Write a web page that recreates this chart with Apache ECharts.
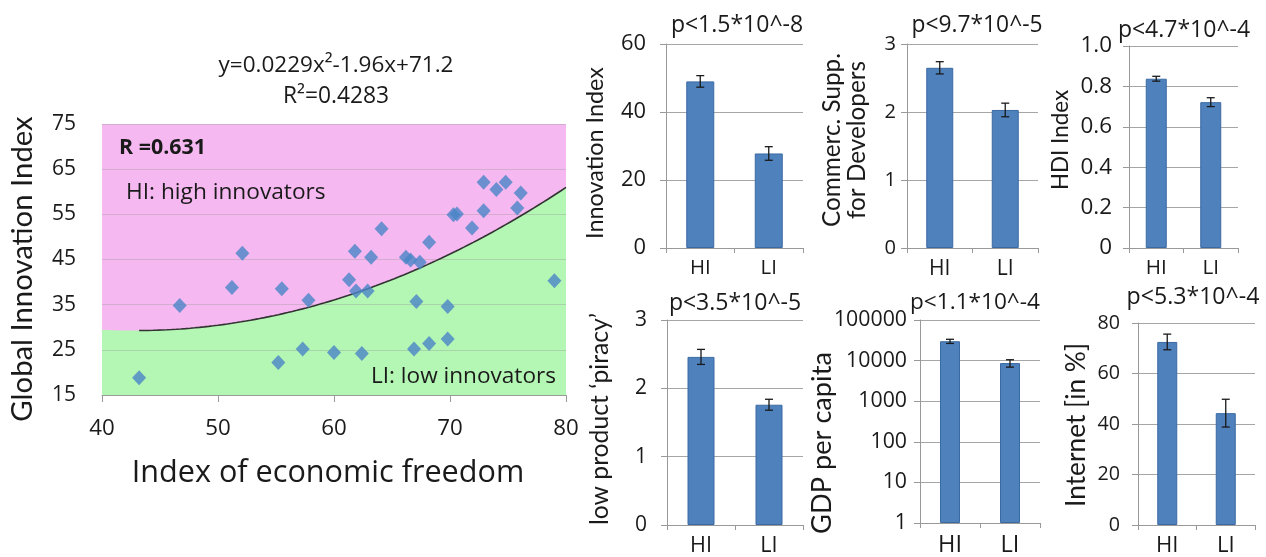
<!DOCTYPE html>
<html>
<head>
<meta charset="utf-8">
<script src="https://cdn.jsdelivr.net/npm/echarts@6/dist/echarts.min.js"></script>
<style>
  html, body { margin: 0; padding: 0; background: #fff; }
  #chart { width: 1266px; height: 557px; }
</style>
</head>
<body>
<div id="chart"></div>
<script>
// Scatter: economic freedom vs. global innovation index (one point per country)
const freedomIndex = [43.2, 46.7, 51.2, 52.1, 55.2, 55.5, 57.3, 57.8, 60.0, 61.3,
  61.8, 61.9, 62.4, 62.9, 63.2, 64.1, 66.2, 66.6, 67.4, 67.1,
  66.9, 68.2, 68.2, 69.8, 69.8, 70.3, 70.6, 71.9, 72.9, 72.9,
  74.0, 74.8, 75.8, 76.1, 79.0];
const innovationIndex = [18.8, 34.8, 38.8, 46.4, 22.2, 38.5, 25.2, 36.0, 24.4, 40.5,
  46.8, 38.0, 24.2, 38.0, 45.5, 51.8, 45.5, 44.9, 44.4, 35.7,
  25.2, 48.8, 26.4, 34.6, 27.4, 54.9, 55.1, 52.0, 62.1, 55.8,
  60.5, 62.1, 56.4, 59.7, 40.3];

// Quadratic fit y = a x^2 + b x + c, as printed above the plot
const trendCoef = [0.0229, -1.96, 71.2];
const trendStartX = 43.2;
const freedomTicks = [40, 50, 60, 70, 80];
const innovationTicks = [15, 25, 35, 45, 55, 65, 75];

// Group comparison bars: high innovators vs. low innovators (mean, standard error)
const groups = ['HI', 'LI'];
const innovationMean = [49.0, 27.8];
const innovationErr  = [1.7, 2.0];
const commercMean = [2.65, 2.03];
const commercErr  = [0.09, 0.10];
const hdiMean = [0.838, 0.722];
const hdiErr  = [0.012, 0.022];
const piracyMean = [2.46, 1.76];
const piracyErr  = [0.11, 0.08];
const gdpMean = [30000, 8700];
const gdpErr  = [3500, 1800];
const internetMean = [72.5, 44.3];
const internetErr  = [3.1, 5.5];
const pValues = ['p<1.5*10^-8', 'p<9.7*10^-5', 'p<4.7*10^-4',
                 'p<3.5*10^-5', 'p<1.1*10^-4', 'p<5.3*10^-4'];
const panelNames = ['Innovation Index', 'Commerc. Supp.\nfor Developers', 'HDI Index',
                    'low product \u2018piracy\u2019', 'GDP per capita', 'Internet [in %]'];

const FONT = 'Open Sans';   // horizontal text
const VFONT = 'Lato';       // rotated axis names
const TXT = '#1a1a1a';
const BAR = '#4F81BD';
const GRID_GRAY = '#a6a6a6';

// Font size that makes a string span a given pixel length
const measureCtx = document.createElement('canvas').getContext('2d');
function fitSize(text, target, weight, family) {
  measureCtx.font = (weight || 'normal') + ' 100px "' + (family || FONT) + '"';
  const longest = text.split('\n').reduce((m, line) => Math.max(m, measureCtx.measureText(line).width), 0);
  return Math.round(1000 * target / longest) / 10;
}

function trendAt(x) {
  return trendCoef[0] * x * x + trendCoef[1] * x + trendCoef[2];
}
const xMin = freedomTicks[0], xMax = freedomTicks[freedomTicks.length - 1];
const areaPts = [];
for (let x = xMin; x <= xMax + 1e-9; x += 0.5) areaPts.push([x, trendAt(x)]);
const linePts = [];
for (let x = trendStartX; x <= xMax + 1e-9; x += 0.4) linePts.push([x, trendAt(x)]);
linePts.push([xMax, trendAt(xMax)]);

const chart = echarts.init(document.getElementById('chart'), null, { renderer: 'canvas' });

// Panel layout (pixels); sample strings size the tick labels
const panels = [
  { left: 666,  top: 44,  width: 137, height: 204, min: 0, max: 60,  interval: 20,  mean: innovationMean, err: innovationErr, barW: 28, lblMargin: 20,
    tickSample: ['60', 25], catSize: 20.7, title: [737, 25, 132], name: [595, 153, 172] },
  { left: 907,  top: 44,  width: 131, height: 204, min: 0, max: 3,   interval: 1,   mean: commercMean,    err: commercErr,    barW: 27, lblMargin: 11,
    tickSample: ['3', 11.5], catSize: 21.5, title: [977, 26, 131], name: [845, 140, 174] },
  { left: 1129, top: 46,  width: 109, height: 202, min: 0, max: 1,   interval: 0.2, mean: hdiMean,        err: hdiErr,        barW: 21, lblMargin: 17,
    tickSample: ['0.8', 31.5], catSize: 21, title: [1184, 30, 132], name: [1061, 140, 100] },
  { left: 667,  top: 320, width: 136, height: 205, min: 0, max: 3,   interval: 1,   mean: piracyMean,     err: piracyErr,     barW: 27, lblMargin: 20,
    tickSample: ['3', 12], catSize: 22, title: [735, 303, 132], name: [600, 419, 212] },
  { left: 920,  top: 320, width: 120, height: 206, min: 1, max: 100000, log: true,  mean: gdpMean,        err: gdpErr,        barW: 20, lblMargin: 13,
    tickSample: ['100000', 73], catSize: 24, title: [975, 303, 130], name: [822, 443, 182] },
  { left: 1138, top: 323, width: 117, height: 203, min: 0, max: 80,  interval: 20,  mean: internetMean,   err: internetErr,   barW: 20, lblMargin: 18,
    tickSample: ['80', 22.5], catSize: 22.5, title: [1193, 297, 133], name: [1077, 425, 164] }
];

const grids = [{ left: 102, top: 124, width: 464, height: 271, show: true, backgroundColor: '#F5B8F0', borderWidth: 0, z: 0 }];
const xAxes = [{
  gridIndex: 0, type: 'value', min: xMin, max: xMax, interval: 10, z: 2,
  axisLine: { show: true, lineStyle: { color: '#9a9a9a', width: 1 } },
  axisTick: { show: true, length: 7, lineStyle: { color: '#9a9a9a' } },
  axisLabel: { fontFamily: FONT, fontSize: fitSize('40', 25.5), color: TXT, margin: 23 },
  splitLine: { show: false }
}];
const yAxes = [{
  gridIndex: 0, type: 'value', min: innovationTicks[0], max: innovationTicks[innovationTicks.length - 1], interval: 10, z: 2,
  axisLine: { show: false }, axisTick: { show: false },
  axisLabel: { fontFamily: FONT, fontSize: fitSize('75', 24), color: TXT, margin: 26 },
  splitLine: { show: true, lineStyle: { color: 'rgba(150,150,150,0.35)', width: 1 } }
}];

const series = [
  { type: 'line', xAxisIndex: 0, yAxisIndex: 0, data: areaPts, showSymbol: false, symbol: 'none',
    lineStyle: { width: 0 }, areaStyle: { color: '#B4F6B4', opacity: 1, origin: 'start' }, z: 1, silent: true },
  { type: 'line', xAxisIndex: 0, yAxisIndex: 0, data: linePts, showSymbol: false, symbol: 'none', smooth: false,
    lineStyle: { width: 1.6, color: '#333' }, z: 3, silent: true },
  { type: 'scatter', xAxisIndex: 0, yAxisIndex: 0, symbol: 'diamond', symbolSize: [14, 15],
    data: freedomIndex.map((x, i) => [x, innovationIndex[i]]),
    itemStyle: { color: '#4A85C7' }, z: 4 }
];

panels.forEach((p, k) => {
  const gi = k + 1;
  grids.push({ left: p.left, top: p.top, width: p.width, height: p.height });
  xAxes.push({
    gridIndex: gi, type: 'category', data: groups, boundaryGap: true,
    axisLine: { show: true, lineStyle: { color: '#999', width: 1 } },
    axisTick: { show: true, length: 5, lineStyle: { color: '#999' } },
    axisLabel: { fontFamily: FONT, fontSize: fitSize('HI', p.catSize), color: TXT, margin: 10 }
  });
  const y = {
    gridIndex: gi, min: p.min, max: p.max,
    axisLine: { show: true, lineStyle: { color: '#999', width: 1 } },
    axisTick: { show: true, length: 6, lineStyle: { color: '#999' } },
    axisLabel: { fontFamily: FONT, fontSize: fitSize(p.tickSample[0], p.tickSample[1]), color: TXT, margin: p.lblMargin,
                 formatter: v => (p.interval && p.interval < 1 && v !== 0 ? v.toFixed(1) : String(v)) },
    splitLine: { show: true, lineStyle: { color: GRID_GRAY, width: 1 } }
  };
  if (p.log) { y.type = 'log'; y.logBase = 10; } else { y.type = 'value'; y.interval = p.interval; }
  yAxes.push(y);
  series.push({
    type: 'bar', xAxisIndex: gi, yAxisIndex: gi, data: p.mean, barWidth: p.barW,
    itemStyle: { color: BAR, borderColor: '#3B6AA3', borderWidth: 1 }, z: 2
  });
  series.push({
    type: 'custom', xAxisIndex: gi, yAxisIndex: gi,
    data: p.mean.map((m, i) => [i, m - p.err[i], m + p.err[i]]),
    encode: { x: 0, y: [1, 2] },
    renderItem: (params, api) => {
      const lo = api.coord([api.value(0), api.value(1)]);
      const hi = api.coord([api.value(0), api.value(2)]);
      const cw = 4;
      const st = { stroke: '#1a1a1a', lineWidth: 1.3 };
      return { type: 'group', children: [
        { type: 'line', shape: { x1: lo[0], y1: lo[1], x2: hi[0], y2: hi[1] }, style: st },
        { type: 'line', shape: { x1: lo[0] - cw, y1: lo[1], x2: lo[0] + cw, y2: lo[1] }, style: st },
        { type: 'line', shape: { x1: hi[0] - cw, y1: hi[1], x2: hi[0] + cw, y2: hi[1] }, style: st }
      ] };
    },
    z: 5
  });
});

// Text labels
function txt(text, x, y, width, weight, align) {
  return { type: 'text', x: x, y: y, z: 10,
    style: { text: text, fontFamily: FONT, fontSize: fitSize(text, width, weight), fontWeight: weight || 'normal',
             fill: TXT, align: align || 'center', verticalAlign: 'middle' } };
}
function vtxt(text, x, y, length) {
  const size = fitSize(text, length, null, VFONT);
  return { type: 'text', x: x, y: y, rotation: Math.PI / 2, z: 10,
    style: { text: text, fontFamily: VFONT, fontSize: size, fill: TXT, align: 'center', verticalAlign: 'middle', lineHeight: 25 } };
}
const graphics = [
  txt('y=0.0229x\u00B2-1.96x+71.2', 336, 66, 235),
  txt('R\u00B2=0.4283', 336, 97, 106),
  txt('R =0.631', 119, 148, 87, 'bold', 'left'),
  txt('HI: high innovators', 126, 193, 200, null, 'left'),
  txt('LI: low innovators', 556, 377, 185, null, 'right'),
  txt('Index of economic freedom', 328, 473, 393),
  vtxt('Global Innovation Index', 23, 269, 305)
];
panels.forEach((p, i) => {
  graphics.push(txt(pValues[i], p.title[0], p.title[1], p.title[2]));
  graphics.push(vtxt(panelNames[i], p.name[0], p.name[1], p.name[2]));
});

chart.setOption({
  animation: false,
  backgroundColor: '#fff',
  grid: grids,
  xAxis: xAxes,
  yAxis: yAxes,
  series: series,
  graphic: graphics
});
</script>
</body>
</html>
